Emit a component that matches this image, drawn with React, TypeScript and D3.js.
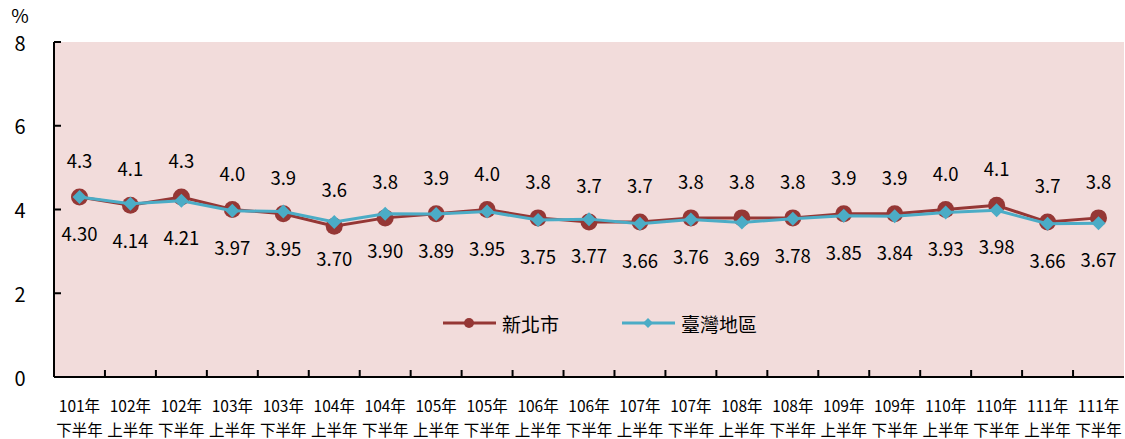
import React from "react";
import * as d3 from "d3";

const years = ["101年","102年","102年","103年","103年","104年","104年","105年","105年","106年","106年","107年","107年","108年","108年","109年","109年","110年","110年","111年","111年"];
const halves = ["下半年","上半年","下半年","上半年","下半年","上半年","下半年","上半年","下半年","上半年","下半年","上半年","下半年","上半年","下半年","上半年","下半年","上半年","下半年","上半年","下半年"];
const newTaipei = [4.3,4.1,4.3,4.0,3.9,3.6,3.8,3.9,4.0,3.8,3.7,3.7,3.8,3.8,3.8,3.9,3.9,4.0,4.1,3.7,3.8];
const taiwan = [4.30,4.14,4.21,3.97,3.95,3.70,3.90,3.89,3.95,3.75,3.77,3.66,3.76,3.69,3.78,3.85,3.84,3.93,3.98,3.66,3.67];
const yTicks = [0,2,4,6,8];

const W = 1125, H = 439;
const left = 54, right = 1124, top = 42, bottom = 377;
const RED = "#953735", BLUE = "#4bacc6";
const FONT = "'Noto Sans CJK TC', 'Noto Sans', sans-serif";

export default function App() {
  const idx = years.map((_, i) => i);
  const x = d3.scaleBand<number>().domain(idx).range([left, right]);
  const y = d3.scaleLinear().domain([0, 8]).range([bottom, top]);
  const cx = (i: number) => (x(i) as number) + x.bandwidth() / 2;
  const line = d3.line<number>().x((_, i) => cx(i)).y(d => y(d));
  const diamond = (r: number) => `M0,${-r}L${r},0L0,${r}L${-r},0Z`;
  return (
    <svg width={W} height={H} style={{ position: "absolute", left: 0, top: 0, fontFamily: FONT }}>
      <rect x={left} y={top} width={right - left} height={bottom - top} fill="#f2dcdb" />
      <line x1={left} x2={left} y1={top} y2={bottom} stroke="#000" strokeWidth={2} />
      <line x1={left} x2={right} y1={bottom} y2={bottom} stroke="#000" strokeWidth={2} />
      {yTicks.map(t => (
        <g key={t}>
          <line x1={left} x2={left + 7} y1={y(t)} y2={y(t)} stroke="#000" strokeWidth={2} />
          <text x={20} y={y(t)} fontSize={20} textAnchor="middle" dominantBaseline="central" fill="#000">{t}</text>
        </g>
      ))}
      <text x={20} y={14} fontSize={19} textAnchor="middle" dominantBaseline="central">%</text>
      {idx.slice(1).map(i => (
        <line key={i} x1={x(i)} x2={x(i)} y1={bottom} y2={bottom - 7} stroke="#000" strokeWidth={2} />
      ))}
      {idx.map(i => (
        <g key={i}>
          <text x={cx(i)} y={405} fontSize={15.5} textAnchor="middle" dominantBaseline="central">{years[i]}</text>
          <text x={cx(i)} y={429} fontSize={15.5} textAnchor="middle" dominantBaseline="central">{halves[i]}</text>
        </g>
      ))}
      <path d={line(newTaipei) || ""} fill="none" stroke={RED} strokeWidth={3} />
      {newTaipei.map((v, i) => (
        <circle key={i} cx={cx(i)} cy={y(v)} r={8.5} fill={RED} />
      ))}
      <path d={line(taiwan) || ""} fill="none" stroke={BLUE} strokeWidth={3} />
      {taiwan.map((v, i) => (
        <path key={i} d={diamond(7)} transform={`translate(${cx(i)},${y(v)})`} fill={BLUE} />
      ))}
      {newTaipei.map((v, i) => (
        <text key={i} x={cx(i)} y={y(v) - 37} fontSize={18.5} textAnchor="middle" dominantBaseline="central" fill="#000">{v.toFixed(1)}</text>
      ))}
      {taiwan.map((v, i) => (
        <text key={i} x={cx(i)} y={y(v) + 36} fontSize={18.5} textAnchor="middle" dominantBaseline="central" fill="#000">{v.toFixed(2)}</text>
      ))}
      <g transform="translate(0,323)">
        <line x1={443} x2={496} y1={0} y2={0} stroke={RED} strokeWidth={3} />
        <circle cx={469} cy={0} r={5} fill={RED} />
        <text x={502} y={0} fontSize={19} dominantBaseline="central">新北市</text>
        <line x1={622} x2={675} y1={0} y2={0} stroke={BLUE} strokeWidth={3} />
        <path d={diamond(5)} transform="translate(648,0)" fill={BLUE} />
        <text x={681} y={0} fontSize={19} dominantBaseline="central">臺灣地區</text>
      </g>
    </svg>
  );
}
